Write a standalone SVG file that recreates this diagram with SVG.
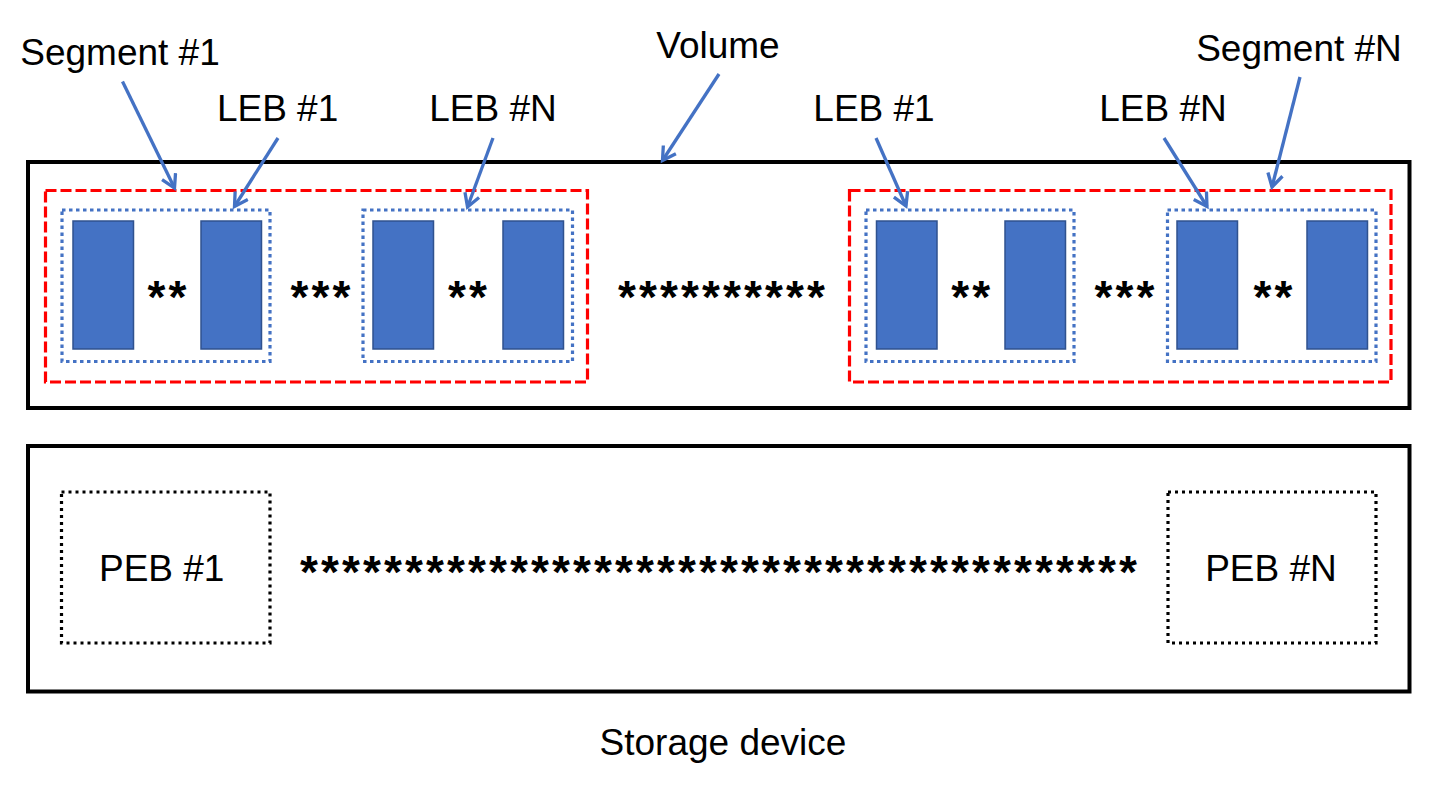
<svg xmlns="http://www.w3.org/2000/svg" width="1432" height="804" viewBox="0 0 1432 804">
<defs>
<style>
.lbl{font-family:"Liberation Sans",Arial,sans-serif;font-size:37px;fill:#000;text-anchor:middle}
.ast{font-family:"Liberation Sans",Arial,sans-serif;font-size:46px;font-weight:bold;fill:#000;text-anchor:middle;letter-spacing:3.1px}
.box{fill:none;stroke:#000;stroke-width:4}
.seg{fill:none;stroke:#FF0000;stroke-width:3.2;stroke-dasharray:11 4}
.leb{fill:none;stroke:#4472C4;stroke-width:3.2;stroke-dasharray:3.5 3.5}
.peb{fill:none;stroke:#000;stroke-width:3.2;stroke-dasharray:3 4}
.blk{fill:#4472C4;stroke:#2F528F;stroke-width:1.5}
.arr{fill:none;stroke:#4472C4;stroke-width:3.3;marker-end:url(#ah)}
</style>
<marker id="ah" markerUnits="userSpaceOnUse" markerWidth="22" markerHeight="22" refX="14" refY="9" orient="auto">
<path d="M1,1.5 L14,9 L1,16.5" fill="none" stroke="#4472C4" stroke-width="3.3"/>
</marker>
</defs>
<rect width="1432" height="804" fill="#fff"/>

<g id="volume">
<rect class="box" x="28" y="162" width="1381.5" height="246"/>
<text class="lbl" x="718" y="58">Volume</text>
</g>

<g id="segment1">
<rect class="seg" x="45.5" y="190.5" width="542" height="191.5"/>
<text class="lbl" x="120" y="65">Segment #1</text>
</g>
<g id="seg1-leb1">
<rect class="leb" x="62" y="210" width="208" height="151.5"/>
<rect class="blk" x="73" y="221" width="60.5" height="128"/>
<rect class="blk" x="201" y="221" width="60.5" height="128"/>
<text class="ast" x="168.5" y="313">**</text>
<text class="lbl" x="277.6" y="121">LEB #1</text>
</g>
<text class="ast" x="322" y="313">***</text>
<g id="seg1-lebN">
<rect class="leb" x="363" y="210" width="209.5" height="151.5"/>
<rect class="blk" x="373" y="221" width="60.5" height="128"/>
<rect class="blk" x="503" y="221" width="60.5" height="128"/>
<text class="ast" x="469" y="313">**</text>
<text class="lbl" x="493" y="121">LEB #N</text>
</g>

<text class="ast" x="723" y="313">**********</text>

<g id="segmentN">
<rect class="seg" x="849.5" y="190.5" width="541.5" height="191.5"/>
<text class="lbl" x="1299" y="61">Segment #N</text>
</g>
<g id="segN-leb1">
<rect class="leb" x="866" y="210" width="208" height="151.5"/>
<rect class="blk" x="876.5" y="221" width="60.5" height="128"/>
<rect class="blk" x="1005" y="221" width="60.5" height="128"/>
<text class="ast" x="972.3" y="313">**</text>
<text class="lbl" x="874" y="121">LEB #1</text>
</g>
<text class="ast" x="1126" y="313">***</text>
<g id="segN-lebN">
<rect class="leb" x="1167.5" y="210" width="208.5" height="151.5"/>
<rect class="blk" x="1177" y="221" width="60.5" height="128"/>
<rect class="blk" x="1307" y="221" width="60.5" height="128"/>
<text class="ast" x="1274.5" y="313">**</text>
<text class="lbl" x="1163" y="121">LEB #N</text>
</g>

<g id="storage">
<rect class="box" x="28" y="446" width="1381.5" height="245.5"/>
<text class="lbl" x="723" y="755">Storage device</text>
<text class="ast" x="720" y="588">****************************************</text>
</g>
<g id="peb1">
<rect class="peb" x="61.5" y="492" width="208.5" height="151"/>
<text class="lbl" x="161.7" y="581">PEB #1</text>
</g>
<g id="pebN">
<rect class="peb" x="1168" y="492" width="208" height="151"/>
<text class="lbl" x="1271" y="581">PEB #N</text>
</g>

<g id="connectors">
<line class="arr" x1="122.5" y1="81.5" x2="174.5" y2="188"/>
<line class="arr" x1="278" y1="138" x2="234.5" y2="206.5"/>
<line class="arr" x1="493" y1="138" x2="467.5" y2="207"/>
<line class="arr" x1="719" y1="74" x2="662.5" y2="160.5"/>
<line class="arr" x1="876" y1="138" x2="906" y2="206"/>
<line class="arr" x1="1164" y1="138" x2="1207" y2="206.5"/>
<line class="arr" x1="1300" y1="77" x2="1272" y2="187"/>
</g>
</svg>
